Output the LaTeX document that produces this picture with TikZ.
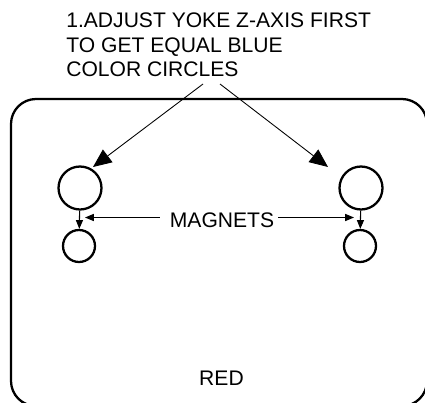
\documentclass[tikz,border=0pt]{standalone}
\usepackage{fontspec}
\setmainfont{Liberation Sans}
\usetikzlibrary{arrows.meta, positioning}
\tikzset{
	label/.style={inner sep=0pt, font=\fontsize{12}{14.2}\selectfont},
	coil/.style={circle, draw, line width=1.3pt, inner sep=0pt},
	leader/.style={line width=0.5pt, -{Triangle[length=10.5pt, width=9pt]}},
	link/.style={line width=0.6pt, -{Triangle[length=5pt, width=4pt]}}
}

\begin{document}
\begin{tikzpicture}[x=0.02cm, y=-0.02cm]
	\useasboundingbox (0,0) rectangle (425,402);
	\clip (0,0) rectangle (425,402);
	% Draw the frame
	\draw[line width=1.3pt, rounded corners=0.5cm] (11,99) rectangle (427,406);
	
	% Title and frame label
	\node[label, align=left, anchor=north west] (title) at (66,12) {1.ADJUST YOKE Z-AXIS FIRST\\TO GET EQUAL BLUE\\COLOR CIRCLES};
	\node[label] (red) at (221.5,378) {RED};
	\node[label] (magnets) at (222,220) {MAGNETS};
	
	% Draw the magnets
	\node[coil, minimum size=0.86cm] (bigL) at (80,188) {};
	\node[coil, minimum size=0.64cm] (smallL) at (79,246) {};
	\node[coil, minimum size=0.86cm] (bigR) at (361,188) {};
	\node[coil, minimum size=0.64cm] (smallR) at (360,246) {};
	
	% Free ends of the leaders
	\coordinate (startL) at (203,84);
	\coordinate (startR) at (220,84);
	\coordinate (endL) at (93,167);
	\coordinate (endR) at (328,167);
	\coordinate (pointL) at (85,217.5);
	\coordinate (pointR) at (354,217.5);
	
	\draw[leader] (startL) -- (endL);
	\draw[leader] (startR) -- (endR);
	\draw[link] (bigL) -- (smallL);
	\draw[link] (bigR) -- (smallR);
	\draw[link, shorten <=0.2cm] (magnets.west |- pointL) -- (pointL);
	\draw[link, shorten <=0.08cm] (magnets.east |- pointR) -- (pointR);
\end{tikzpicture}
\end{document}
